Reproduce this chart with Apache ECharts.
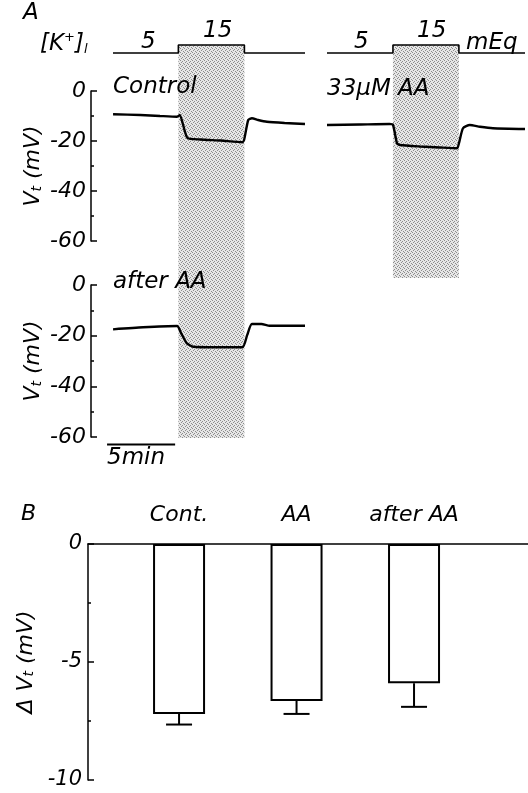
<!DOCTYPE html>
<html>
<head>
<meta charset="utf-8">
<script src="https://cdn.jsdelivr.net/npm/echarts@6/dist/echarts.min.js"></script>
<style>
  html, body { margin: 0; padding: 0; background: #fff; }
  #main { width: 528px; height: 793px; }
</style>
</head>
<body>
<div id="main"></div>
<script>
// [K+] bath concentration (mEq) and the exposure window (min from trace start)
var kLevels = [5, 15];
var kWindowLeft = [4.8, 9.65];
var kWindowRight = [4.85, 9.7];

// Vt traces, time in min, voltage in mV
var controlTime = [0, 2.0, 3.45, 4.7, 4.9, 5.45, 6.4, 7.9, 9.5, 9.63, 9.93, 10.2, 10.66, 11.3, 12.6, 14.1];
var controlMv   = [-9.3, -9.6, -10.0, -10.3, -9.6, -18.7, -19.4, -19.8, -20.5, -19.5, -11.6, -10.9, -11.6, -12.3, -12.8, -13.2];

var aaTime = [0, 2.4, 4.6, 4.85, 5.15, 5.37, 6.84, 8.3, 9.56, 9.7, 10.0, 10.5, 11.25, 12.2, 14.56];
var aaMv   = [-13.6, -13.4, -13.2, -13.5, -20.9, -21.6, -22.2, -22.6, -22.9, -21.0, -14.9, -13.6, -14.3, -14.9, -15.2];

var afterTime = [0, 2.2, 4.7, 5.0, 5.4, 5.9, 7.5, 9.5, 9.85, 10.2, 10.9, 11.5, 14.1];
var afterMv   = [-17.5, -16.7, -16.2, -19.0, -22.9, -24.4, -24.6, -24.6, -19.8, -15.4, -15.4, -16.1, -16.1];

var scaleBarMin = 5;

// panel B: change in Vt
var categories = ['Cont.', 'AA', 'after AA'];
var meanDelta = [-7.2, -6.65, -5.9];
var semDelta = [0.45, 0.55, 1.0];

var FONT = 'DejaVu Sans';

function zip(t, v) {
  return t.map(function (x, i) { return [x, v[i]]; });
}
function kStep(win, tEnd) {
  return [[0, kLevels[0]], [win[0], kLevels[0]], [win[0], kLevels[1]],
          [win[1], kLevels[1]], [win[1], kLevels[0]], [tEnd, kLevels[0]]];
}

// stippled grey for the high-K window
var tile = document.createElement('canvas');
tile.width = 4; tile.height = 4;
var tc = tile.getContext('2d');
tc.fillStyle = '#e6e6e6'; tc.fillRect(0, 0, 4, 4);
tc.fillStyle = '#8c8c8c';
[[0, 0], [2, 1], [1, 2], [3, 3]].forEach(function (p) { tc.fillRect(p[0], p[1], 1, 1); });
var shadeFill = { image: tile, repeat: 'repeat' };

var chart = echarts.init(document.getElementById('main'));

var hidden = { show: false };
function hx(i, min, max) {
  return { type: 'value', gridIndex: i, min: min, max: max, show: false };
}
function hy(i, min, max) {
  return { type: 'value', gridIndex: i, min: min, max: max, show: false };
}
var nameRich = {
  v: { fontFamily: FONT, fontSize: 22, fontStyle: 'italic', color: '#000' },
  s: { fontFamily: FONT, fontSize: 14, fontStyle: 'italic', color: '#000', padding: [8, 0, 0, 0] }
};
function vtAxis(i) {
  return {
    type: 'value', gridIndex: i, min: -60, max: 0, interval: 20,
    name: '{v|V}{s|t}{v| (mV)}', nameLocation: 'middle', nameGap: 47,
    nameTextStyle: { rich: nameRich },
    axisLine: { show: true, onZero: false, lineStyle: { color: '#000', width: 1.5 } },
    axisTick: { show: true, inside: true, length: 6, lineStyle: { color: '#000', width: 1.5 } },
    minorTick: { show: true, splitNumber: 2, length: 3, lineStyle: { color: '#000', width: 1.5 } },
    axisLabel: { fontFamily: FONT, fontSize: 22, fontStyle: 'italic', color: '#000', margin: 5 },
    splitLine: hidden
  };
}

function shadeSeries(x, y, win) {
  return {
    type: 'custom', xAxisIndex: x, yAxisIndex: y, z: 0, silent: true,
    data: [win],
    renderItem: function (params, api) {
      var a = api.coord([api.value(0), 1]);
      var b = api.coord([api.value(1), 0]);
      return { type: 'rect', shape: { x: a[0], y: a[1], width: b[0] - a[0], height: b[1] - a[1] },
               style: { fill: shadeFill } };
    }
  };
}
function traceSeries(x, y, data) {
  return {
    type: 'line', xAxisIndex: x, yAxisIndex: y, data: data, symbol: 'none', z: 3,
    smooth: 0.2, lineStyle: { color: '#000', width: 2.4 }
  };
}

var txt = function (x, y, text, size) {
  return { type: 'text', left: x, top: y, z: 100,
    style: { text: text, fontFamily: FONT, fontSize: size || 23, fontStyle: 'italic', fill: '#000' } };
};

var option = {
  animation: false,
  backgroundColor: '#fff',
  grid: [
    { left: 113, top: 45, width: 192, height: 12 },   // 0 K left
    { left: 327, top: 45, width: 198, height: 12 },   // 1 K right
    { left: 113, top: 45, width: 192, height: 393 },  // 2 shade left
    { left: 327, top: 45, width: 198, height: 233 },  // 3 shade right
    { left: 91, top: 91, width: 214, height: 150 },   // 4 control
    { left: 327, top: 91, width: 198, height: 150 },  // 5 33uM AA
    { left: 91, top: 285, width: 214, height: 152 },  // 6 after AA
    { left: 88, top: 544, width: 440, height: 236 }   // 7 bars
  ],
  xAxis: [
    hx(0, 0, 14.1), hx(1, 0, 14.56), hx(2, 0, 14.1), hx(3, 0, 14.56),
    hx(4, -1.62, 14.1), hx(5, 0, 14.56), hx(6, -1.62, 14.1),
    { type: 'value', gridIndex: 7, min: 0.225, max: 3.97,
      axisLine: { show: true, onZero: true, lineStyle: { color: '#000', width: 1.5 } },
      axisTick: hidden, axisLabel: hidden, splitLine: hidden }
  ],
  yAxis: [
    hy(0, 0, 15), hy(1, 0, 15), hy(2, 0, 1), hy(3, 0, 1),
    vtAxis(4), hy(5, -60, 0), vtAxis(6),
    { type: 'value', gridIndex: 7, min: -10, max: 0, interval: 5,
      name: '{v|Δ V}{s|t}{v| (mV)}', nameLocation: 'middle', nameGap: 47,
      nameTextStyle: { rich: nameRich },
      axisLine: { show: true, onZero: false, lineStyle: { color: '#000', width: 1.5 } },
      axisTick: { show: true, inside: true, length: 6, lineStyle: { color: '#000', width: 1.5 } },
      minorTick: { show: true, splitNumber: 2, length: 3, lineStyle: { color: '#000', width: 1.5 } },
      axisLabel: { fontFamily: FONT, fontSize: 21, fontStyle: 'italic', color: '#000', margin: 6 },
      splitLine: hidden }
  ],
  series: [
    shadeSeries(2, 2, kWindowLeft),
    shadeSeries(3, 3, kWindowRight),
    { type: 'line', xAxisIndex: 0, yAxisIndex: 0, data: kStep(kWindowLeft, 14.1), symbol: 'none',
      clip: false, z: 3, lineStyle: { color: '#000', width: 1.6 } },
    { type: 'line', xAxisIndex: 1, yAxisIndex: 1, data: kStep(kWindowRight, 14.56), symbol: 'none',
      clip: false, z: 3, lineStyle: { color: '#000', width: 1.6 } },
    traceSeries(4, 4, zip(controlTime, controlMv)),
    traceSeries(5, 5, zip(aaTime, aaMv)),
    traceSeries(6, 6, zip(afterTime, afterMv)),
    { type: 'line', xAxisIndex: 6, yAxisIndex: 6, symbol: 'none', clip: false, z: 3,
      data: [[-0.44, -63], [-0.44 + scaleBarMin, -63]], lineStyle: { color: '#000', width: 2 } },
    { type: 'bar', xAxisIndex: 7, yAxisIndex: 7, barWidth: 52, z: 2,
      data: meanDelta.map(function (m, i) { return [i + 1, m]; }),
      itemStyle: { color: '#fff', borderColor: '#000', borderWidth: 2 } },
    { type: 'custom', xAxisIndex: 7, yAxisIndex: 7, z: 4, clip: false,
      data: meanDelta.map(function (m, i) { return [i + 1, m, semDelta[i]]; }),
      renderItem: function (params, api) {
        var x = api.value(0), m = api.value(1), s = api.value(2);
        var p = api.coord([x, m]);
        var q = api.coord([x, m - s]);
        var top = api.coord([x, 0]);
        var ls = { stroke: '#000', lineWidth: 2 };
        return { type: 'group', children: [
          { type: 'line', shape: { x1: p[0], y1: p[1], x2: q[0], y2: q[1] }, style: ls },
          { type: 'line', shape: { x1: q[0] - 13, y1: q[1], x2: q[0] + 13, y2: q[1] }, style: ls },
          { type: 'text', x: top[0], y: top[1] - 29,
            style: { text: categories[params.dataIndex], fontFamily: FONT, fontSize: 22,
                     fontStyle: 'italic', fill: '#000', align: 'center', verticalAlign: 'middle' } }
        ] };
      } }
  ],
  graphic: [
    txt(23, 2, 'A'),
    { type: 'text', left: 40, top: 31, z: 100, style: {
        text: '{b|[K}{sup|+}{b|]}{sub|l}', fill: '#000',
        rich: {
          b: { fontFamily: FONT, fontSize: 23, fontStyle: 'italic', fill: '#000' },
          sup: { fontFamily: FONT, fontSize: 13, fontStyle: 'italic', fill: '#000', padding: [0, 0, 13, 0] },
          sub: { fontFamily: FONT, fontSize: 13, fontStyle: 'italic', fill: '#000', padding: [11, 0, 0, 0] }
        } } },
    txt(141, 31, '5'), txt(203, 20, '15'),
    txt(354, 31, '5'), txt(417, 20, '15'), txt(466, 32, 'mEq'),
    txt(113, 76, 'Control'),
    txt(327, 78, '33µM AA'),
    txt(113, 271, 'after AA'),
    txt(107, 447, '5min'),
    txt(21, 503, 'B', 22)
  ]
};

chart.setOption(option);
</script>
</body>
</html>
